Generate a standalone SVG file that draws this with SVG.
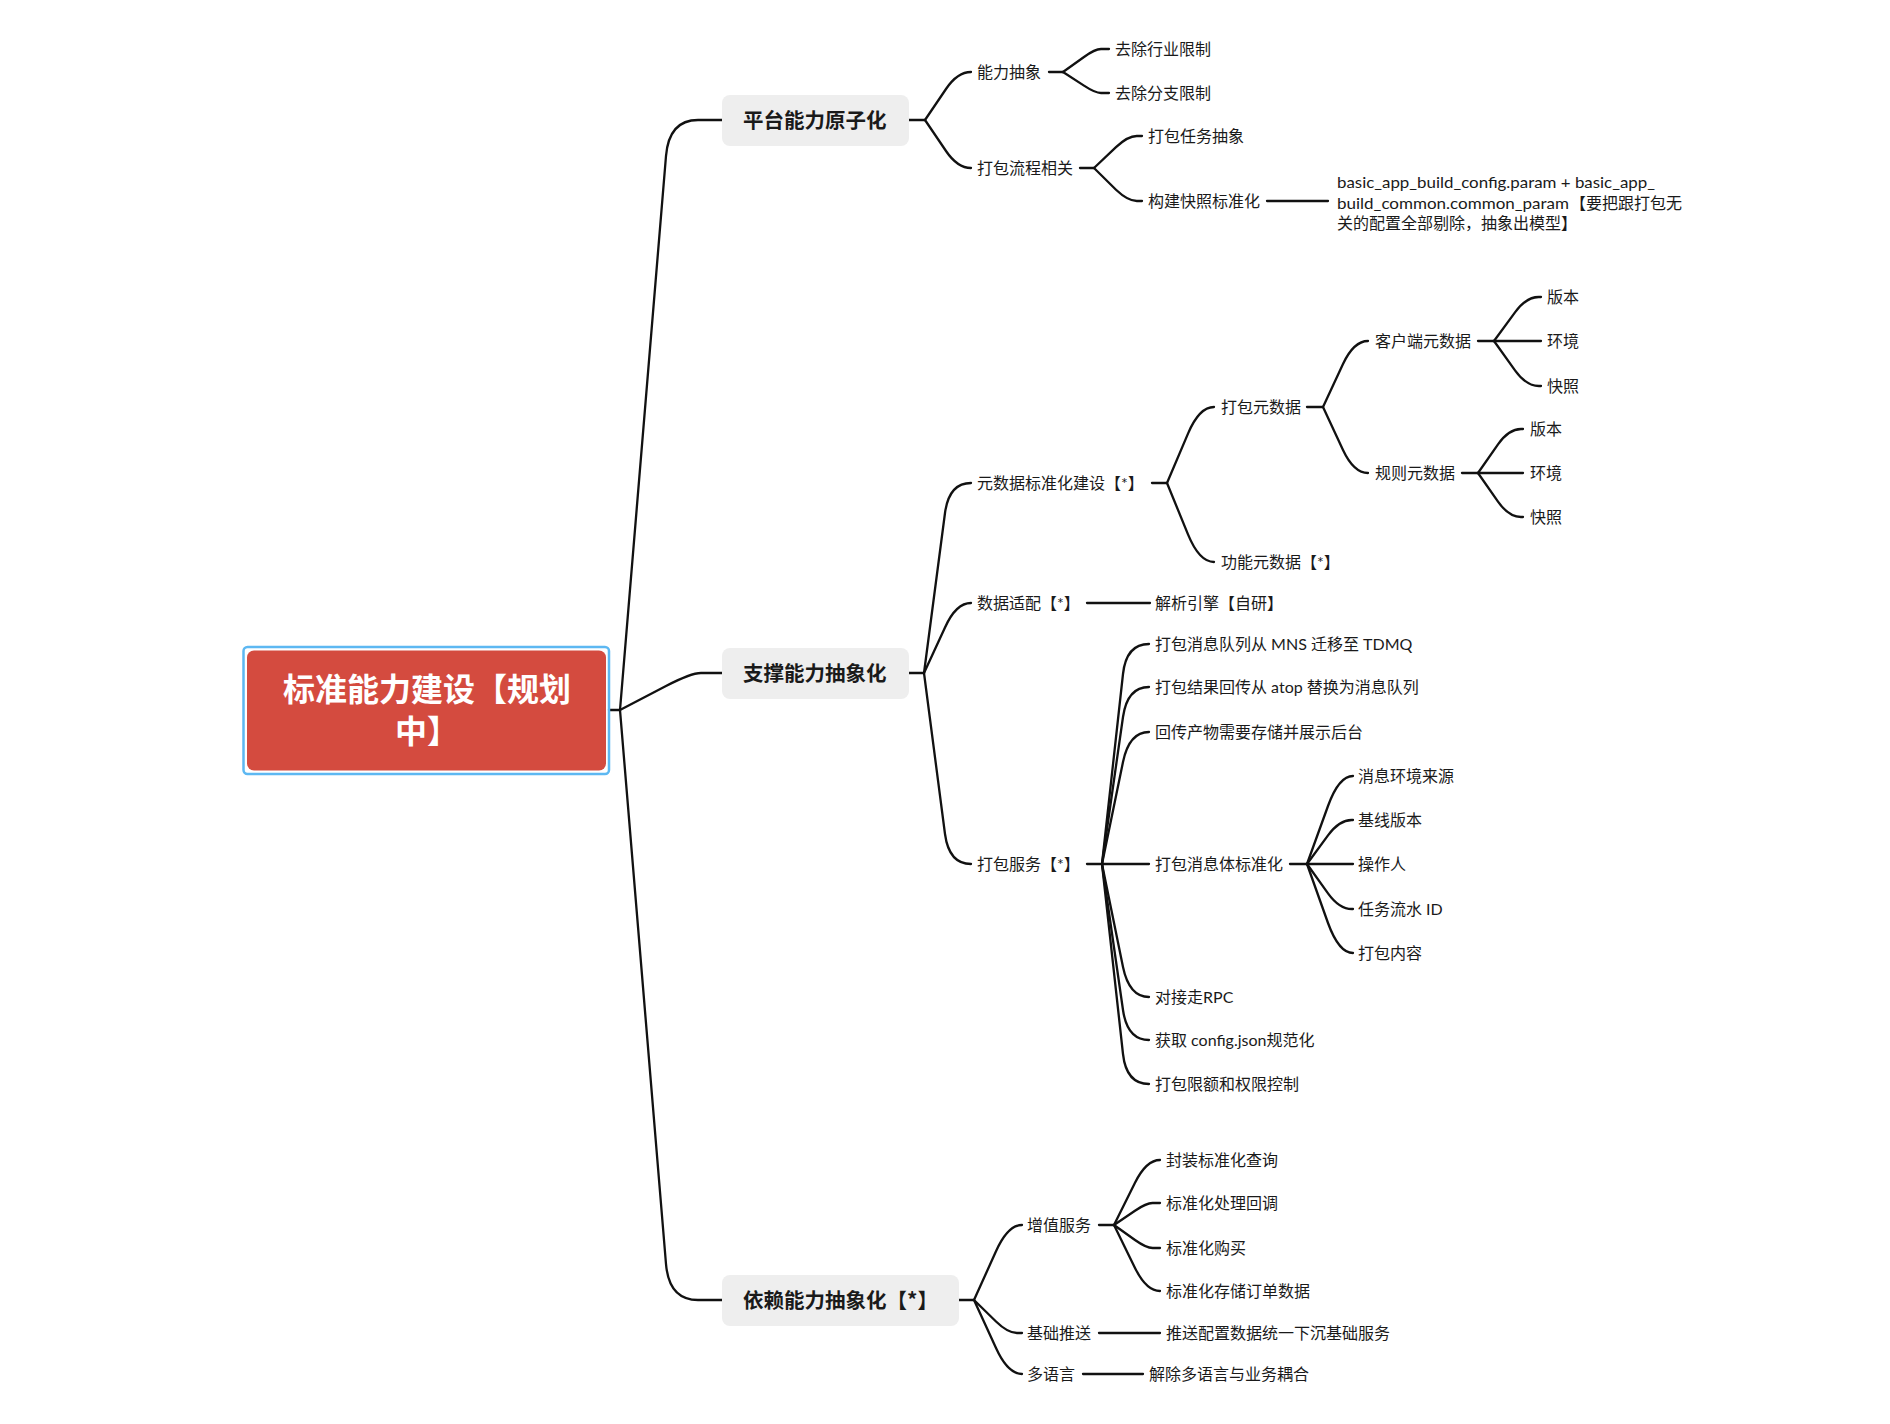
<svg xmlns="http://www.w3.org/2000/svg" width="1890" height="1424" viewBox="0 0 1890 1424">
<style>
.t{font-family:Lato,"Noto Sans CJK SC",sans-serif;font-size:16px;fill:#1a1a1a;dominant-baseline:central}
.l1{font-family:"Noto Sans CJK SC",sans-serif;font-size:20.5px;font-weight:bold;fill:#1a1a1a;dominant-baseline:central}
.rt{font-family:"Noto Sans CJK SC",sans-serif;font-size:32px;font-weight:bold;fill:#ffffff;dominant-baseline:central;text-anchor:middle}
.box{fill:#eeeeee}
.c path{fill:none;stroke:#111111;stroke-width:2.3;stroke-linecap:round;stroke-linejoin:round}
</style>
<rect width="1890" height="1424" fill="#ffffff"/>
<g class="c" id="connectors">
<path d="M609 710 L620 710"/>
<path d="M620 710 L666 156 Q669 120 698 120 L722 120"/>
<path d="M620 710 L666 686 Q691 673 701 673 L722 673"/>
<path d="M620 710 L666 1264 Q669 1300 698 1300 L722 1300"/>
<path d="M909 120 L925 120"/>
<path d="M925 120 L946 89 Q957.5 72 971 72"/>
<path d="M925 120 L946 151 Q957.5 168 971 168"/>
<path d="M1049 72 L1063 72"/>
<path d="M1063 72 L1084 57 Q1095 49 1101 49 L1109 49"/>
<path d="M1063 72 L1084 85.6 Q1095.3 93 1101 93 L1109 93"/>
<path d="M1080 168 L1094 168"/>
<path d="M1094 168 L1116 147.2 Q1127.8 136 1136.8 136 L1142 136"/>
<path d="M1094 168 L1116 189.8 Q1127.8 201 1136.8 201 L1142 201"/>
<path d="M1267 201 L1328 201"/>
<path d="M909 673 L924 673"/>
<path d="M924 673 L945 513 Q949 483 971 483"/>
<path d="M924 673 L945 627.5 Q956 603 971 603"/>
<path d="M924 673 L945 834 Q949 864 971 864"/>
<path d="M1152 483 L1167 483"/>
<path d="M1167 483 L1188 433.6 Q1199.3 407 1214 407"/>
<path d="M1167 483 L1188 534.4 Q1199.3 562 1214 562"/>
<path d="M1307 407 L1323 407"/>
<path d="M1323 407 L1343 364 Q1353.8 341 1368 341"/>
<path d="M1323 407 L1343 450 Q1353.8 473 1368 473"/>
<path d="M1478 341 L1494 341"/>
<path d="M1494 341 L1515 312.4 Q1526.3 297 1538.6 297 L1541 297"/>
<path d="M1494 341 L1541 341"/>
<path d="M1494 341 L1515 370.3 Q1526.3 386 1538.9 386 L1541 386"/>
<path d="M1462 473 L1478 473"/>
<path d="M1478 473 L1498 444.4 Q1508.8 429 1521 429 L1523 429"/>
<path d="M1478 473 L1523 473"/>
<path d="M1478 473 L1498 501.6 Q1508.8 517 1521 517 L1523 517"/>
<path d="M1087 603 L1150 603"/>
<path d="M1087 864 L1102 864"/>
<path d="M1102 864 L1123 674 Q1126.3 644 1149 644"/>
<path d="M1102 864 L1123 717 Q1127.3 687 1149 687"/>
<path d="M1102 864 L1123 762 Q1129.2 732 1149 732"/>
<path d="M1102 864 L1149 864"/>
<path d="M1102 864 L1123 967 Q1129.2 997 1149 997"/>
<path d="M1102 864 L1123 1010 Q1127.3 1040 1149 1040"/>
<path d="M1102 864 L1123 1054 Q1126.3 1084 1149 1084"/>
<path d="M1290 864 L1307 864"/>
<path d="M1307 864 L1328 806 Q1338.9 776 1353 776"/>
<path d="M1307 864 L1328 835.4 Q1339.3 820 1351.6 820 L1353 820"/>
<path d="M1307 864 L1353 864"/>
<path d="M1307 864 L1328 893.3 Q1339.3 909 1351.9 909 L1353 909"/>
<path d="M1307 864 L1328 923 Q1338.9 953 1353 953"/>
<path d="M959 1300 L974 1300"/>
<path d="M974 1300 L996 1251.3 Q1007.8 1225 1022 1225"/>
<path d="M974 1300 L996 1321.5 Q1007.8 1333 1017 1333 L1022 1333"/>
<path d="M974 1300 L996 1348.1 Q1007.8 1374 1022 1374"/>
<path d="M1099 1225 L1114 1225"/>
<path d="M1114 1225 L1135 1182.8 Q1146.3 1160 1160 1160"/>
<path d="M1114 1225 L1135 1210.7 Q1146.3 1203 1152.5 1203 L1160 1203"/>
<path d="M1114 1225 L1135 1240 Q1146.3 1248 1152.7 1248 L1160 1248"/>
<path d="M1114 1225 L1135 1267.9 Q1146.3 1291 1160 1291"/>
<path d="M1099 1333 L1160 1333"/>
<path d="M1083 1374 L1143 1374"/>
</g>
<g id="root">
<rect x="243.5" y="647" width="365.5" height="127" rx="4" fill="none" stroke="#5db8f2" stroke-width="2.5"/>
<rect x="247" y="650.5" width="359" height="120" rx="7" fill="#d44b3f"/>
<text class="rt" x="427" y="687">标准能力建设【规划</text>
<text class="rt" x="427" y="729">中】</text>
</g>
<g id="n-pingtai"><rect class="box" x="722" y="95" width="187" height="51" rx="8"/><text class="l1" x="743" y="119">平台能力原子化</text></g>
<g id="n-zhicheng"><rect class="box" x="722" y="648" width="187" height="51" rx="8"/><text class="l1" x="743" y="672">支撑能力抽象化</text></g>
<g id="n-yilai"><rect class="box" x="722" y="1275" width="237" height="51" rx="8"/><text class="l1" x="743" y="1299">依赖能力抽象化【*】</text></g>
<g id="n-nengli"><text class="t" x="977" y="71">能力抽象</text></g>
<g id="n-hangye"><text class="t" x="1115" y="48">去除行业限制</text></g>
<g id="n-fenzhi"><text class="t" x="1115" y="92">去除分支限制</text></g>
<g id="n-liucheng"><text class="t" x="977" y="167">打包流程相关</text></g>
<g id="n-renwu"><text class="t" x="1148" y="135">打包任务抽象</text></g>
<g id="n-kuaizhao"><text class="t" x="1148" y="200">构建快照标准化</text></g>
<g id="n-param"><text class="t" x="1337" y="181" textLength="318" lengthAdjust="spacingAndGlyphs">basic_app_build_config.param + basic_app_</text><text class="t" x="1337" y="202" textLength="232" lengthAdjust="spacingAndGlyphs">build_common.common_param</text><text class="t" x="1570" y="202">【要把跟打包无</text><text class="t" x="1337" y="222">关的配置全部剔除，抽象出模型】</text></g>
<g id="n-yuanshuju"><text class="t" x="977" y="482">元数据标准化建设【*】</text></g>
<g id="n-dabaoyuan"><text class="t" x="1221" y="406">打包元数据</text></g>
<g id="n-kehuduan"><text class="t" x="1375" y="340">客户端元数据</text></g>
<g id="n-kv1"><text class="t" x="1547" y="296">版本</text></g>
<g id="n-kv2"><text class="t" x="1547" y="340">环境</text></g>
<g id="n-kv3"><text class="t" x="1547" y="385">快照</text></g>
<g id="n-guize"><text class="t" x="1375" y="472">规则元数据</text></g>
<g id="n-gv1"><text class="t" x="1530" y="428">版本</text></g>
<g id="n-gv2"><text class="t" x="1530" y="472">环境</text></g>
<g id="n-gv3"><text class="t" x="1530" y="516">快照</text></g>
<g id="n-gongneng"><text class="t" x="1221" y="561">功能元数据【*】</text></g>
<g id="n-shipei"><text class="t" x="977" y="602">数据适配【*】</text></g>
<g id="n-jiexi"><text class="t" x="1155" y="602">解析引擎【自研】</text></g>
<g id="n-fuwu"><text class="t" x="977" y="863">打包服务【*】</text></g>
<g id="n-f1"><text class="t" x="1155" y="643">打包消息队列从 MNS 迁移至 TDMQ</text></g>
<g id="n-f2"><text class="t" x="1155" y="686">打包结果回传从 atop 替换为消息队列</text></g>
<g id="n-f3"><text class="t" x="1155" y="731">回传产物需要存储并展示后台</text></g>
<g id="n-f4"><text class="t" x="1155" y="863">打包消息体标准化</text></g>
<g id="n-m1"><text class="t" x="1358" y="775">消息环境来源</text></g>
<g id="n-m2"><text class="t" x="1358" y="819">基线版本</text></g>
<g id="n-m3"><text class="t" x="1358" y="863">操作人</text></g>
<g id="n-m4"><text class="t" x="1358" y="908">任务流水 ID</text></g>
<g id="n-m5"><text class="t" x="1358" y="952">打包内容</text></g>
<g id="n-f5"><text class="t" x="1155" y="996">对接走RPC</text></g>
<g id="n-f6"><text class="t" x="1155" y="1039">获取 config.json规范化</text></g>
<g id="n-f7"><text class="t" x="1155" y="1083">打包限额和权限控制</text></g>
<g id="n-zengzhi"><text class="t" x="1027" y="1224">增值服务</text></g>
<g id="n-z1"><text class="t" x="1166" y="1159">封装标准化查询</text></g>
<g id="n-z2"><text class="t" x="1166" y="1202">标准化处理回调</text></g>
<g id="n-z3"><text class="t" x="1166" y="1247">标准化购买</text></g>
<g id="n-z4"><text class="t" x="1166" y="1290">标准化存储订单数据</text></g>
<g id="n-tuisong"><text class="t" x="1027" y="1332">基础推送</text></g>
<g id="n-t1"><text class="t" x="1166" y="1332">推送配置数据统一下沉基础服务</text></g>
<g id="n-duoyuyan"><text class="t" x="1027" y="1373">多语言</text></g>
<g id="n-d1"><text class="t" x="1149" y="1373">解除多语言与业务耦合</text></g>
</svg>
